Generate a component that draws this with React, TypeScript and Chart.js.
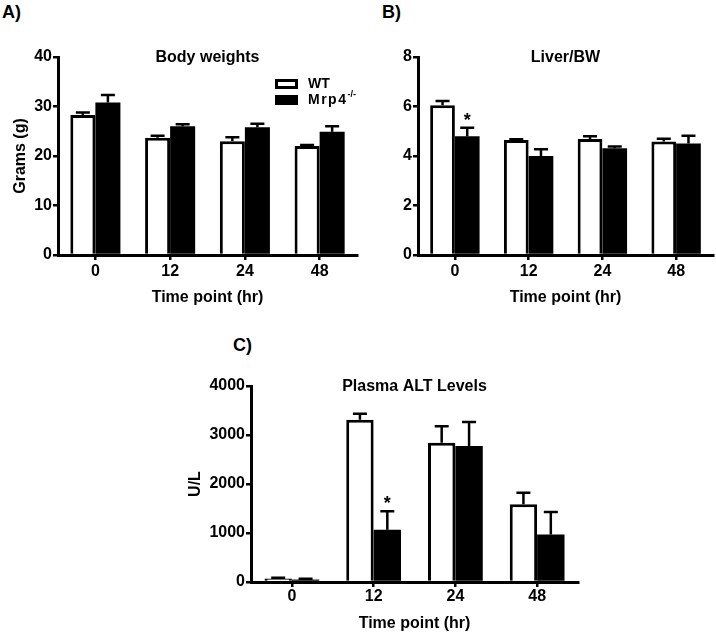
import React, { useEffect, useRef } from 'react';
import { Chart, registerables } from 'chart.js';

Chart.register(...registerables);

// ---------- DATA ----------
const categories = ['0', '12', '24', '48'];

const bodyWT = [28.3, 23.7, 23.0, 22.0];
const bodyWTErr = [0.5, 0.4, 0.8, 0.2];
const bodyKO = [30.8, 26.0, 25.8, 24.9];
const bodyKOErr = [1.5, 0.4, 0.7, 1.1];

const liverWT = [6.05, 4.65, 4.69, 4.59];
const liverWTErr = [0.17, 0.03, 0.11, 0.11];
const liverKO = [4.8, 4.0, 4.31, 4.51];
const liverKOErr = [0.34, 0.27, 0.07, 0.31];

const altWT = [70, 3313, 2843, 1585];
const altWTErr = [15, 122, 334, 238];
const altKO = [50, 1068, 2776, 967];
const altKOErr = [15, 374, 489, 462];

const liverKOStars = [true, false, false, false];
const altKOStars = [false, true, false, false];
const noStars = [false, false, false, false];

const FONT = 'Arial, "Liberation Sans", Helvetica, sans-serif';

// ---------- PLUGINS ----------
const errorBarPlugin = {
  id: 'errorBars',
  afterDatasetsDraw(chart: any) {
    const { ctx } = chart;
    const y = chart.scales.y;
    chart.data.datasets.forEach((ds: any, di: number) => {
      const meta = chart.getDatasetMeta(di);
      meta.data.forEach((bar: any, i: number) => {
        const v = ds.data[i];
        const e = ds.errors[i];
        const yTop = y.getPixelForValue(v + e);
        const yBase = y.getPixelForValue(v);
        ctx.save();
        ctx.strokeStyle = '#000';
        ctx.lineWidth = 2.5;
        ctx.beginPath();
        ctx.moveTo(bar.x, yBase);
        ctx.lineTo(bar.x, yTop);
        ctx.moveTo(bar.x - 7, yTop);
        ctx.lineTo(bar.x + 7, yTop);
        ctx.stroke();
        if (ds.stars && ds.stars[i]) {
          ctx.fillStyle = '#000';
          ctx.font = `bold 18px ${FONT}`;
          ctx.textAlign = 'center';
          ctx.textBaseline = 'alphabetic';
          ctx.fillText('*', bar.x, yTop - 2);
        }
        ctx.restore();
      });
    });
  },
};

const panelTitlePlugin = {
  id: 'panelTitle',
  afterDraw(chart: any, _args: any, opts: any) {
    if (!opts || !opts.text) return;
    const { ctx, chartArea } = chart;
    ctx.save();
    ctx.fillStyle = '#000';
    ctx.font = `bold 16px ${FONT}`;
    ctx.textAlign = 'center';
    ctx.textBaseline = 'middle';
    ctx.fillText(opts.text, (chartArea.left + chartArea.right) / 2, chartArea.top + 1);
    ctx.restore();
  },
};

const boxLegendPlugin = {
  id: 'boxLegend',
  afterDraw(chart: any, _args: any, opts: any) {
    if (!opts || !opts.show) return;
    const { ctx, chartArea } = chart;
    const x0 = chartArea.left + opts.dx;
    const y0 = chartArea.top + opts.dy;
    ctx.save();
    chart.data.datasets.forEach((ds: any, i: number) => {
      const by = y0 + i * 16;
      ctx.fillStyle = ds.backgroundColor;
      ctx.fillRect(x0, by, 23, 10);
      ctx.strokeStyle = '#000';
      ctx.lineWidth = 3;
      ctx.strokeRect(x0 + 1.5, by + 1.5, 20, 7);
      ctx.fillStyle = '#000';
      ctx.textBaseline = 'middle';
      ctx.textAlign = 'left';
      ctx.font = `bold 14px ${FONT}`;
      const tx = x0 + 33;
      const ty = by + 5;
      if (ds.legendSup) {
        (ctx as any).letterSpacing = '1.5px';
        ctx.fillText(ds.legendMain, tx, ty);
        const w = ctx.measureText(ds.legendMain).width;
        (ctx as any).letterSpacing = '0px';
        ctx.font = `bold 9px ${FONT}`;
        ctx.fillText(ds.legendSup, tx + w, ty - 5);
      } else {
        ctx.fillText(ds.legendMain, tx, ty);
      }
    });
    ctx.restore();
  },
};

// ---------- CHART BUILDER ----------
type Spec = {
  title: string;
  wt: number[];
  wtErr: number[];
  ko: number[];
  koErr: number[];
  koStars: boolean[];
  max: number;
  step: number;
  yTitle: string;
  yWidth: number;
  yTitlePad: number;
  xHeight: number;
  xTickPad: number;
  xTitlePad: number;
  padding: { left: number; right: number; top: number; bottom: number };
  legend: boolean;
};

function build(canvas: HTMLCanvasElement, s: Spec) {
  const tickFont = { family: FONT, size: 16, weight: 'bold' as const };
  return new Chart(canvas, {
    type: 'bar',
    data: {
      labels: categories,
      datasets: [
        {
          label: 'WT',
          legendMain: 'WT',
          data: s.wt,
          errors: s.wtErr,
          stars: noStars,
          backgroundColor: '#ffffff',
          borderColor: '#000000',
          borderWidth: 3,
          categoryPercentage: 0.67,
          barPercentage: 1,
        } as any,
        {
          label: 'Mrp4-/-',
          legendMain: 'Mrp4',
          legendSup: '-/-',
          data: s.ko,
          errors: s.koErr,
          stars: s.koStars,
          backgroundColor: '#000000',
          borderColor: '#000000',
          borderWidth: 0,
          categoryPercentage: 0.67,
          barPercentage: 1,
        } as any,
      ],
    },
    options: {
      responsive: false,
      animation: false,
      layout: { padding: s.padding },
      plugins: {
        legend: { display: false },
        tooltip: { enabled: false },
        panelTitle: { text: s.title },
        boxLegend: { show: s.legend, dx: 217, dy: 22 },
      } as any,
      scales: {
        x: {
          grid: {
            display: true,
            drawOnChartArea: false,
            offset: false,
            tickLength: 5,
            lineWidth: 2.5,
            color: '#000',
          },
          border: { display: true, width: 3, color: '#000' },
          ticks: { color: '#000', font: tickFont, padding: s.xTickPad },
          title: {
            display: true,
            text: 'Time point (hr)',
            color: '#000',
            font: tickFont,
            padding: { top: 0, bottom: s.xTitlePad },
          },
          afterFit: (sc: any) => {
            sc.height = s.xHeight;
          },
        },
        y: {
          min: 0,
          max: s.max,
          grid: {
            display: true,
            drawOnChartArea: false,
            tickLength: 5,
            lineWidth: 2.5,
            color: '#000',
          },
          border: { display: true, width: 3, color: '#000' },
          ticks: {
            stepSize: s.step,
            color: '#000',
            font: tickFont,
            padding: 1,
            callback: (v: any) => String(v),
          },
          title: {
            display: !!s.yTitle,
            text: s.yTitle,
            color: '#000',
            font: tickFont,
            padding: { top: s.yTitlePad, bottom: 0 },
          },
          afterFit: (sc: any) => {
            sc.width = s.yWidth;
          },
        },
      },
    } as any,
    plugins: [errorBarPlugin, panelTitlePlugin, boxLegendPlugin],
  });
}

// ---------- COMPONENTS ----------
function Panel(props: { spec: Spec; left: number; top: number; width: number; height: number }) {
  const ref = useRef<HTMLCanvasElement>(null);
  useEffect(() => {
    if (!ref.current) return;
    const chart = build(ref.current, props.spec);
    return () => chart.destroy();
  }, []);
  return (
    <canvas
      ref={ref}
      width={props.width}
      height={props.height}
      style={{ position: 'absolute', left: props.left, top: props.top, width: props.width, height: props.height }}
    />
  );
}

const labelStyle: React.CSSProperties = {
  position: 'absolute',
  fontFamily: FONT,
  fontWeight: 'bold',
  fontSize: 18,
  lineHeight: '18px',
  color: '#000',
};

export default function App() {
  const specA: Spec = {
    title: 'Body weights',
    wt: bodyWT, wtErr: bodyWTErr, ko: bodyKO, koErr: bodyKOErr, koStars: noStars,
    max: 40, step: 10, yTitle: 'Grams (g)', yWidth: 58, yTitlePad: 11,
    xHeight: 55, xTickPad: 2, xTitlePad: 3,
    padding: { left: 0, right: 3, top: 27, bottom: 0 },
    legend: true,
  };
  const specB: Spec = {
    title: 'Liver/BW',
    wt: liverWT, wtErr: liverWTErr, ko: liverKO, koErr: liverKOErr, koStars: liverKOStars,
    max: 8, step: 2, yTitle: '', yWidth: 58, yTitlePad: 0,
    xHeight: 55, xTickPad: 2, xTitlePad: 3,
    padding: { left: 0, right: 3, top: 27, bottom: 0 },
    legend: false,
  };
  const specC: Spec = {
    title: 'Plasma ALT Levels',
    wt: altWT, wtErr: altWTErr, ko: altKO, koErr: altKOErr, koStars: altKOStars,
    max: 4000, step: 1000, yTitle: 'U/L', yWidth: 71, yTitlePad: 6,
    xHeight: 51, xTickPad: 0, xTitlePad: 0,
    padding: { left: 0, right: 12, top: 31, bottom: 0 },
    legend: false,
  };
  return (
    <div style={{ position: 'fixed', left: 0, top: 0, width: 716, height: 633, background: '#fff', overflow: 'hidden' }}>
      <div style={{ ...labelStyle, left: 2, top: 3 }}>A)</div>
      <div style={{ ...labelStyle, left: 382, top: 3 }}>B)</div>
      <div style={{ ...labelStyle, left: 233, top: 336 }}>C)</div>
      <Panel spec={specA} left={0} top={30} width={360} height={280} />
      <Panel spec={specB} left={360} top={30} width={356} height={280} />
      <Panel spec={specC} left={180} top={355} width={410} height={278} />
    </div>
  );
}
